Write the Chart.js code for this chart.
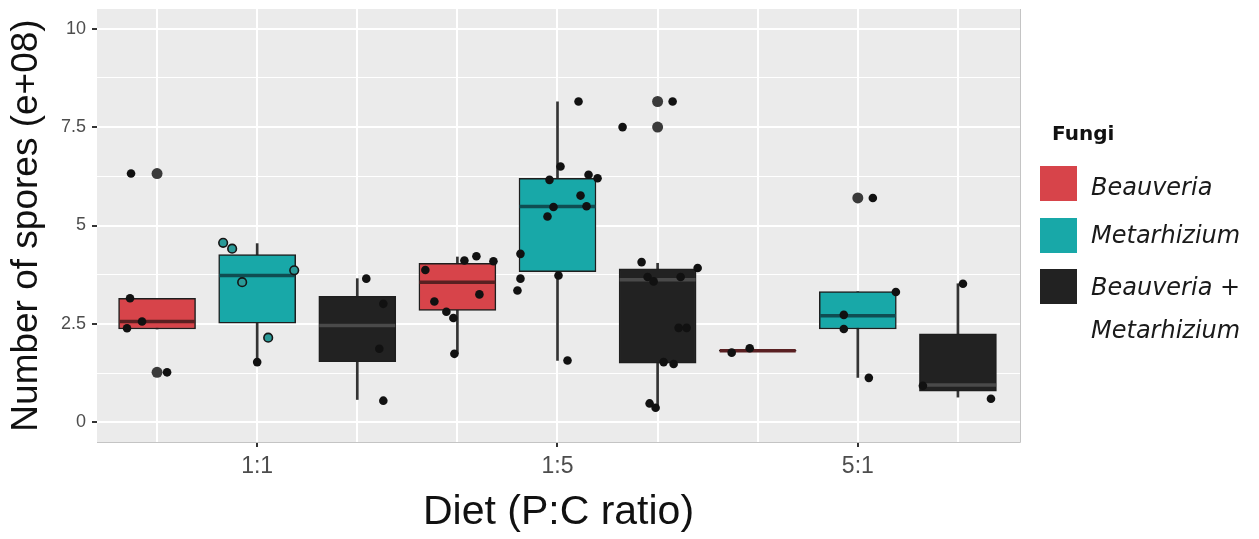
<!DOCTYPE html>
<html>
<head>
<meta charset="utf-8">
<script src="https://cdn.jsdelivr.net/npm/chart.js@4.4.1/dist/chart.umd.min.js"></script>
<style>
    body { margin: 0; background: #fff; }
    #wrap { position: relative; width: 1259px; height: 539px; }
    .legend-title { position: absolute; left: 1052px; top: 123px; font: bold 20px 'DejaVu Sans', sans-serif; line-height: 20px; color: #111; }
    .legend-key { position: absolute; left: 1040px; width: 37px; height: 35px; }
    .legend-label { position: absolute; left: 1091px; font: oblique 24px 'DejaVu Sans', sans-serif; line-height: 24px; color: #1a1a1a; white-space: nowrap; }
</style>
</head>
<body>
<div id="wrap">
    <canvas id="sporeChart" width="1259" height="539"></canvas>
    <div id="legend"></div>
</div>
<script>
const diets = ['1:1', '1:5', '5:1'];
const fungi = ['Beauveria', 'Metarhizium', 'Beauveria + Metarhizium'];
const fungiColors = ['#d7444a', '#18a8a8', '#222222'];
const medianColors = ['#5a2022', '#0f4d52', '#4a4a4a'];

// one box per diet: [lower whisker, q1, median, q3, upper whisker]
const beauveriaBox = [[2.37, 2.37, 2.56, 3.15, 3.15], [1.74, 2.84, 3.56, 4.04, 4.20], [1.81, 1.81, 1.82, 1.83, 1.83]];
const metarhiziumBox = [[1.53, 2.52, 3.73, 4.26, 4.54], [1.57, 3.83, 5.48, 6.20, 8.14], [1.14, 2.37, 2.71, 3.32, 3.32]];
const comboBox = [[0.58, 1.54, 2.46, 3.20, 3.65], [0.42, 1.50, 3.62, 3.90, 4.04], [0.64, 0.79, 0.95, 2.25, 3.52]];

// outliers per diet (drawn at the box centre)
const beauveriaOutliers = [[6.32, 1.27], [], []];
const metarhiziumOutliers = [[], [], [5.70]];
const comboOutliers = [[], [7.50, 8.15], []];

// jittered observations per diet: [offset from box centre, value]
const beauveriaPoints = [
    [[-0.26, 6.32], [-0.27, 3.15], [-0.15, 2.56], [-0.30, 2.39], [0.10, 1.27]],
    [[-0.32, 3.87], [0.07, 4.11], [0.19, 4.22], [0.36, 4.09], [-0.23, 3.07], [0.22, 3.25], [-0.11, 2.81], [-0.04, 2.65], [-0.03, 1.74]],
    [[-0.26, 1.77], [-0.08, 1.88]]
];
const metarhiziumPoints = [
    [[-0.34, 4.56], [-0.25, 4.41], [-0.15, 3.56], [0.37, 3.86], [0.11, 2.15], [0.00, 1.53]],
    [[0.21, 8.15], [0.03, 6.50], [-0.08, 6.16], [0.31, 6.29], [0.40, 6.20], [0.23, 5.76], [-0.04, 5.47], [0.29, 5.49], [-0.10, 5.23], [-0.37, 4.28], [0.01, 3.73], [-0.37, 3.65], [-0.40, 3.35], [0.10, 1.57]],
    [[0.15, 5.70], [0.38, 3.31], [-0.14, 2.73], [-0.14, 2.37], [0.11, 1.13]]
];
const comboPoints = [
    [[0.09, 3.65], [0.26, 3.01], [0.22, 1.87], [0.26, 0.55]],
    [[-0.35, 7.50], [0.15, 8.15], [-0.16, 4.07], [0.40, 3.92], [-0.10, 3.69], [-0.04, 3.58], [0.23, 3.69], [0.21, 2.40], [0.29, 2.40], [0.06, 1.53], [0.16, 1.48], [-0.08, 0.48], [-0.02, 0.37]],
    [[0.05, 3.52], [-0.35, 0.93], [0.33, 0.60]]
];

const yTicks = [0, 2.5, 5, 7.5, 10];

const boxes = [beauveriaBox, metarhiziumBox, comboBox];
const outliers = [beauveriaOutliers, metarhiziumOutliers, comboOutliers];
const points = [beauveriaPoints, metarhiziumPoints, comboPoints];

// each diet takes three slots on the x axis, one per fungus
function boxPos(d, f) { return d * 3 + f; }
const dietTickPos = diets.map((_, d) => boxPos(d, 1));

const datasets = [];
fungi.forEach((name, f) => {
    datasets.push({
        type: 'bar', label: name + ' whisker', order: 4, grouped: false,
        data: boxes[f].map((b, d) => ({ x: boxPos(d, f), y: [b[0], b[4]] })),
        backgroundColor: '#333333', barThickness: 2
    });
    datasets.push({
        type: 'bar', label: name, order: 3, grouped: false,
        data: boxes[f].map((b, d) => ({ x: boxPos(d, f), y: [b[1], b[3]] })),
        backgroundColor: fungiColors[f], borderColor: '#1e1e1e', borderWidth: 1.5,
        borderSkipped: false, barThickness: 77
    });
    datasets.push({
        type: 'scatter', label: name + ' median', order: 2,
        data: boxes[f].map((b, d) => ({ x: boxPos(d, f), y: b[2] })),
        pointStyle: 'line', radius: 38, borderWidth: 3.5, borderColor: medianColors[f]
    });
    datasets.push({
        type: 'scatter', label: name + ' outliers', order: 1,
        data: outliers[f].flatMap((vals, d) => vals.map(v => ({ x: boxPos(d, f), y: v }))),
        radius: 5.5, backgroundColor: '#3a3a3a', borderWidth: 0
    });
    // the 1:1 Metarhizium dots show through teal in the original
    const pts = points[f].flatMap((list, d) => list.map(p => ({ x: boxPos(d, f) + p[0], y: p[1], d })));
    const tealDot = p => f === 1 && p.d === 0 && p.y > 2;
    datasets.push({
        type: 'scatter', label: name + ' points', order: 0,
        data: pts,
        radius: 4.3,
        backgroundColor: pts.map(p => tealDot(p) ? '#2a9a98' : '#111111'),
        borderColor: '#151515',
        borderWidth: pts.map(p => tealDot(p) ? 1.6 : 0)
    });
});

const panelBackground = {
    id: 'panelBackground',
    beforeDraw(chart) {
        const { ctx, chartArea: a } = chart;
        ctx.save();
        ctx.fillStyle = '#ebebeb';
        ctx.fillRect(a.left, a.top, a.right - a.left, a.bottom - a.top);
        ctx.restore();
    },
    afterDatasetsDraw(chart) {
        const { ctx, chartArea: a } = chart;
        ctx.save();
        ctx.strokeStyle = '#c4c4c4';
        ctx.lineWidth = 1;
        ctx.beginPath();
        ctx.moveTo(a.left, a.bottom + 0.5);
        ctx.lineTo(a.right + 0.5, a.bottom + 0.5);
        ctx.lineTo(a.right + 0.5, a.top);
        ctx.stroke();
        ctx.restore();
    }
};

const isMajorY = c => !!c.tick && yTicks.some(t => Math.abs(t - c.tick.value) < 1e-6);
const isDietTick = c => !!c.tick && dietTickPos.includes(c.tick.value);

new Chart(document.getElementById('sporeChart'), {
    type: 'bar',
    data: { datasets },
    options: {
        responsive: false,
        animation: false,
        layout: { autoPadding: false, padding: { top: 9, right: 239, left: 0, bottom: 0 } },
        plugins: { legend: { display: false }, tooltip: { enabled: false } },
        scales: {
            x: {
                type: 'linear',
                min: -0.6, max: 8.62,
                offset: false,
                afterFit: s => { s.height = 97; s.paddingLeft = 0; s.paddingRight = 0; },
                border: { display: false },
                grid: {
                    offset: false,
                    color: '#ffffff', lineWidth: 2, tickLength: 5,
                    tickColor: c => isDietTick(c) ? '#333333' : 'rgba(0,0,0,0)'
                },
                ticks: {
                    stepSize: 1, includeBounds: false, autoSkip: false, maxRotation: 0, padding: 6,
                    color: '#4d4d4d', font: { family: "'Liberation Sans Narrow', 'Liberation Sans'", size: 23 },
                    callback: v => dietTickPos.includes(v) ? diets[dietTickPos.indexOf(v)] : ''
                },
                title: {
                    display: true, text: 'Diet (P:C ratio)', color: '#111',
                    font: { family: "'Liberation Sans', Arial", size: 41 }, padding: { top: 0, bottom: 2 }
                }
            },
            y: {
                min: -0.5, max: 10.5,
                afterFit: s => { s.width = 97; s.paddingTop = 0; s.paddingBottom = 0; },
                border: { display: false },
                grid: {
                    color: '#ffffff', tickLength: 5,
                    lineWidth: c => isMajorY(c) ? 2 : 1,
                    tickColor: c => isMajorY(c) ? '#333333' : 'rgba(0,0,0,0)'
                },
                ticks: {
                    stepSize: 1.25, includeBounds: false, padding: 6,
                    color: '#4d4d4d', font: { family: "'Liberation Sans', Arial", size: 18 },
                    callback: v => yTicks.some(t => Math.abs(t - v) < 1e-6) ? String(v) : ''
                },
                title: {
                    display: true, text: 'Number of spores (e+08)', color: '#111',
                    font: { family: "'Liberation Sans', Arial", size: 37 }, padding: { top: 5, bottom: 0 }
                }
            }
        }
    },
    plugins: [panelBackground]
});

// legend in the right margin
const legend = document.getElementById('legend');
const title = document.createElement('div');
title.className = 'legend-title';
title.textContent = 'Fungi';
legend.appendChild(title);
const keyTops = [166, 218, 269];
fungi.forEach((name, f) => {
    const key = document.createElement('div');
    key.className = 'legend-key';
    key.style.top = keyTops[f] + 'px';
    key.style.background = fungiColors[f];
    legend.appendChild(key);
});
const labelLines = [['Beauveria', 175], ['Metarhizium', 223], ['Beauveria +', 275], ['Metarhizium', 318]];
labelLines.forEach(([text, top]) => {
    const el = document.createElement('div');
    el.className = 'legend-label';
    el.style.top = top + 'px';
    el.textContent = text;
    legend.appendChild(el);
});
</script>
</body>
</html>
